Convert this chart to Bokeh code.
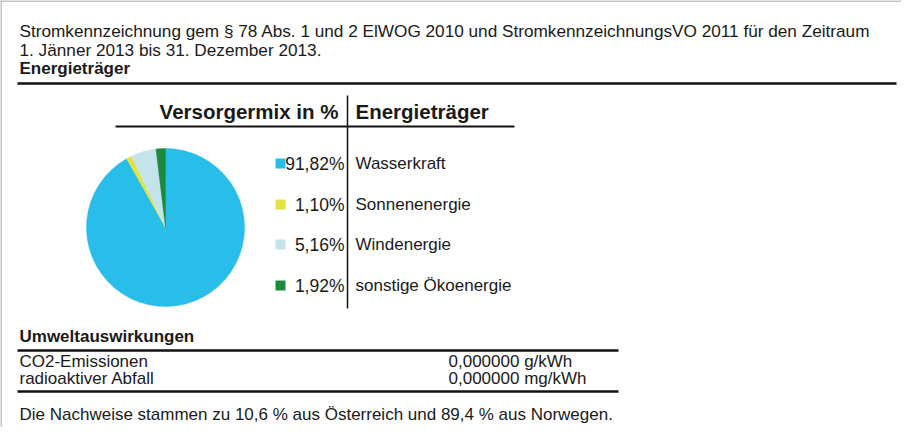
import numpy as np
from bokeh.plotting import figure
from bokeh.models import Range1d, ColumnDataSource
from bokeh.embed import file_html
from bokeh.resources import INLINE
from bokeh.core.properties import value

# ---------------- data ----------------
title_lines = [
    "Stromkennzeichnung gem § 78 Abs. 1 und 2 ElWOG 2010 und StromkennzeichnungsVO 2011 für den Zeitraum",
    "1. Jänner 2013 bis 31. Dezember 2013.",
]
section_title = "Energieträger"
col_header_left = "Versorgermix in %"
col_header_right = "Energieträger"
categories = ["Wasserkraft", "Sonnenenergie", "Windenergie", "sonstige Ökoenergie"]
shares = [91.82, 1.10, 5.16, 1.92]
share_labels = ["91,82%", "1,10%", "5,16%", "1,92%"]
colors = ["#29BDEA", "#E2E343", "#C4E4EB", "#1B8A3B"]
impact_title = "Umweltauswirkungen"
impact_labels = ["CO2-Emissionen", "radioaktiver Abfall"]
impact_values = ["0,000000 g/kWh", "0,000000 mg/kWh"]
footnote = "Die Nachweise stammen zu 10,6 % aus Österreich und 89,4 % aus Norwegen."

# ---------------- layout helpers ----------------
W, H = 901, 427
M = 8
FONT = "Liberation Sans"


def X(rx):
    return rx - M


def Y(ry):
    return H - (ry - M)


p = figure(width=W, height=H, output_backend="svg", toolbar_location=None,
           x_range=Range1d(0, W), y_range=Range1d(0, H),
           x_axis_location=None, y_axis_location=None, min_border=0)
p.grid.visible = False
p.outline_line_color = None
p.background_fill_color = "white"


def txt(x, y, s, size="17px", bold=False, align="left", color="#1a1a1a"):
    p.text(x=[x], y=[y], text=[s], text_font=value(FONT), text_font_size=size,
           text_font_style="bold" if bold else "normal", text_align=align,
           text_baseline="middle", text_color=color)


# frame (top / left)
p.segment(x0=[0, 0.5], y0=[H - 0.5, 0], x1=[W, 0.5], y1=[H - 0.5, H],
          line_color="#8a8a8a", line_width=1)

# title block
txt(X(27), Y(38), title_lines[0], size="17.2px")
txt(X(27), Y(57), title_lines[1], size="17.2px")
txt(X(27), Y(76), section_title, size="17px", bold=True)
p.segment(x0=[X(25)], y0=[Y(91)], x1=[X(904)], y1=[Y(91)], line_color="#111111", line_width=2.5)

# table header
txt(X(346), Y(119), col_header_left, size="20.5px", bold=True, align="right")
txt(X(363), Y(119), col_header_right, size="20.5px", bold=True)
p.segment(x0=[X(123)], y0=[Y(134)], x1=[X(522)], y1=[Y(134)], line_color="#111111", line_width=2)
p.segment(x0=[X(355)], y0=[Y(103)], x1=[X(355)], y1=[Y(316)], line_color="#111111", line_width=1.5)

# pie (clockwise from 12 o'clock)
fr = np.array(shares) / sum(shares)
cum = np.concatenate([[0], np.cumsum(fr)])
start = np.pi / 2 - 2 * np.pi * cum[:-1]
end = np.pi / 2 - 2 * np.pi * cum[1:]
src = ColumnDataSource(dict(start=start, end=end, color=colors))
p.wedge(x=X(173), y=Y(235), radius=79, start_angle="start", end_angle="end",
        direction="clock", fill_color="color", line_color="color", line_width=0.5, source=src)

# legend rows
row_y = [171, 212, 252, 293]
for i, cat in enumerate(categories):
    p.rect(x=[X(288)], y=[Y(row_y[i])], width=10, height=10, fill_color=colors[i], line_color=None)
    txt(X(352), Y(row_y[i]), share_labels[i], size="17.5px", align="right")
    txt(X(363), Y(row_y[i]), cat, size="17px")

# environmental impacts
txt(X(27), Y(344), impact_title, size="17px", bold=True)
p.segment(x0=[X(25)], y0=[Y(358)], x1=[X(626)], y1=[Y(358)], line_color="#111111", line_width=2.5)
imp_y = [369, 386]
for i in range(len(impact_labels)):
    txt(X(27), Y(imp_y[i]), impact_labels[i], size="17px")
    txt(X(456), Y(imp_y[i]), impact_values[i], size="17px")
p.segment(x0=[X(25)], y0=[Y(399)], x1=[X(626)], y1=[Y(399)], line_color="#111111", line_width=2.5)

txt(X(27), Y(422), footnote, size="17px")

open("out.html", "w").write(file_html(p, INLINE))
